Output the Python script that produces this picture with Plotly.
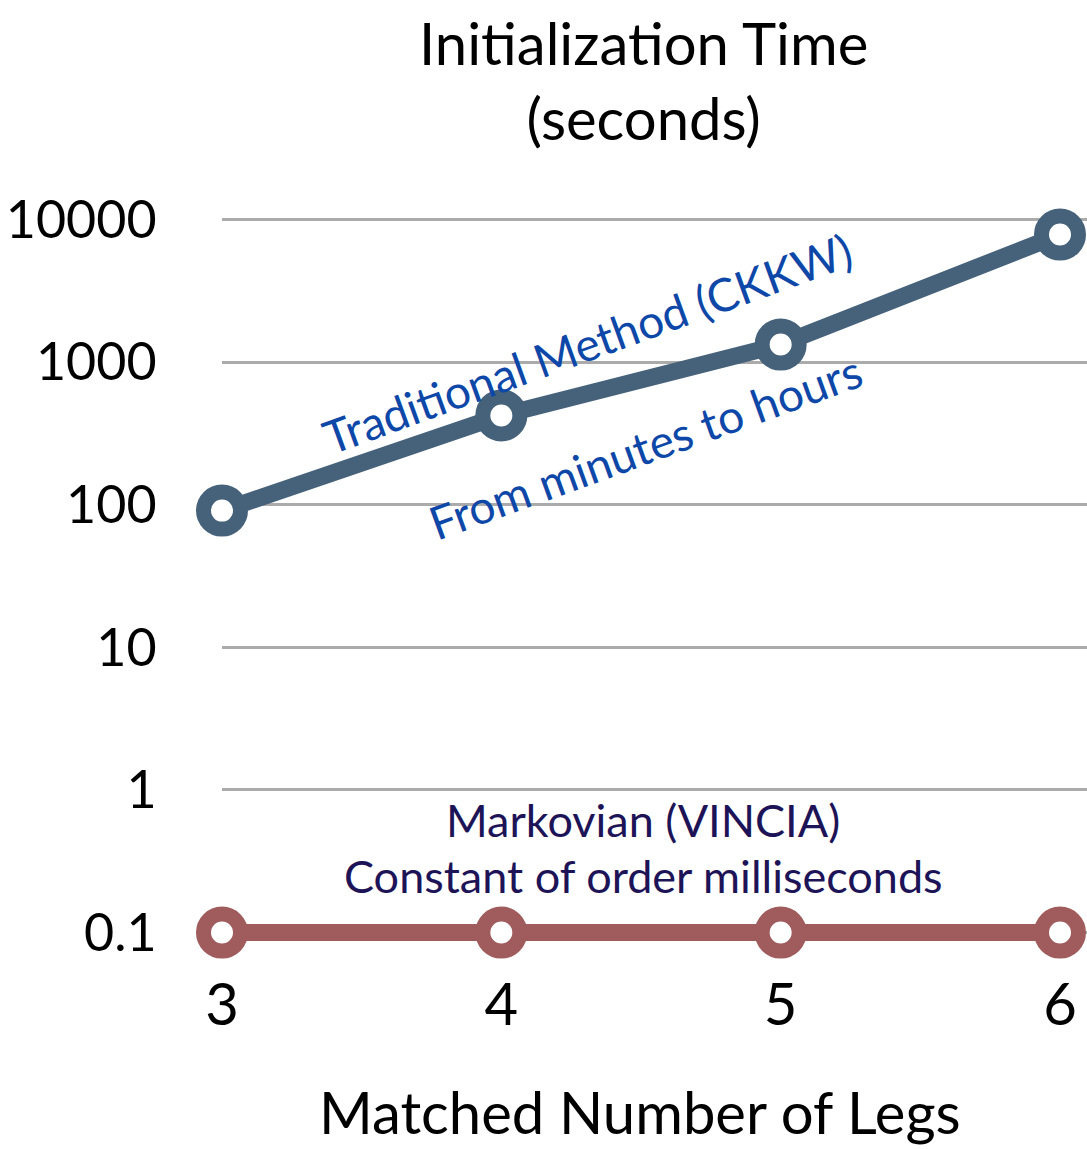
import plotly.graph_objects as go

# Matched number of legs and initialization time in seconds
legs = [3, 4, 5, 6]
ckkw_seconds = [91, 423, 1330, 7850]
vincia_seconds = [0.1, 0.1, 0.1, 0.1]
y_tick_values = [0.1, 1, 10, 100, 1000, 10000]
y_tick_labels = ["0.1", "1", "10", "100", "1000", "10000"]

FONT = "Lato"
W, H = 1087, 1149
DECADE = 142.6                      # pixels per decade on the log axis
Y_LO, Y_HI = -1.08, 4.06            # log10 range, padded so lines at 0.1 are not clipped
L, R = 222, 0
B = round(216 - (-1 - Y_LO) * DECADE)
T = round(220 - (Y_HI - 4) * DECADE)
PW, PH = W - L - R, H - T - B


def px(x):
    return (x - L) / PW


def py(y):
    return (H - B - y) / PH


fig = go.Figure()

fig.add_trace(go.Scatter(
    x=legs, y=vincia_seconds, mode="lines+markers", cliponaxis=False,
    line=dict(color="#a05b5c", width=17),
    marker=dict(size=37, color="white", line=dict(color="#a05b5c", width=15)),
    showlegend=False,
))
fig.add_trace(go.Scatter(
    x=legs, y=ckkw_seconds, mode="lines+markers", cliponaxis=False,
    line=dict(color="#46627b", width=17),
    marker=dict(size=37, color="white", line=dict(color="#46627b", width=15)),
    showlegend=False,
))

notes = [
    ("Traditional Method (CKKW)", 587, 343, -20, "#0d47a8", 46),
    ("From minutes to hours", 645, 446, -20, "#0d47a8", 46),
    ("Markovian (VINCIA)", 643, 820, 0, "#1d1458", 45),
    ("Constant of order milliseconds", 643, 876, 0, "#1d1458", 45),
]
for text, x, y, ang, col, size in notes:
    fig.add_annotation(
        text=text, x=px(x), y=py(y), xref="paper", yref="paper",
        xanchor="center", yanchor="middle", textangle=ang, showarrow=False,
        font=dict(family=FONT, size=size, color=col),
    )

fig.add_annotation(
    text="Initialization Time<br>(seconds)", x=px(643), y=py(80),
    xref="paper", yref="paper", xanchor="center", yanchor="middle",
    showarrow=False, font=dict(family=FONT, size=58, color="black"),
)
fig.add_annotation(
    text="Matched Number of Legs", x=px(640), y=py(1111),
    xref="paper", yref="paper", xanchor="center", yanchor="middle",
    showarrow=False, font=dict(family=FONT, size=58, color="black"),
)

fig.update_xaxes(
    range=[3, 6 + 27 / 279.3], tickvals=legs, ticktext=[str(v) for v in legs],
    showgrid=False, zeroline=False, showline=False,
    ticks="outside", ticklen=10, tickcolor="rgba(0,0,0,0)",
    tickfont=dict(family=FONT, size=58, color="black"),
)
fig.update_yaxes(
    type="log", range=[Y_LO, Y_HI], tickvals=y_tick_values, ticktext=y_tick_labels,
    showgrid=True, gridcolor="#ababab", gridwidth=2.5,
    zeroline=False, showline=False,
    ticks="outside", ticklen=54, tickcolor="rgba(0,0,0,0)",
    tickfont=dict(family=FONT, size=52, color="black"),
)

fig.update_layout(
    width=W, height=H,
    margin=dict(l=L, r=R, t=T, b=B, autoexpand=False),
    plot_bgcolor="white", paper_bgcolor="white",
)

fig.write_html("out.html")
